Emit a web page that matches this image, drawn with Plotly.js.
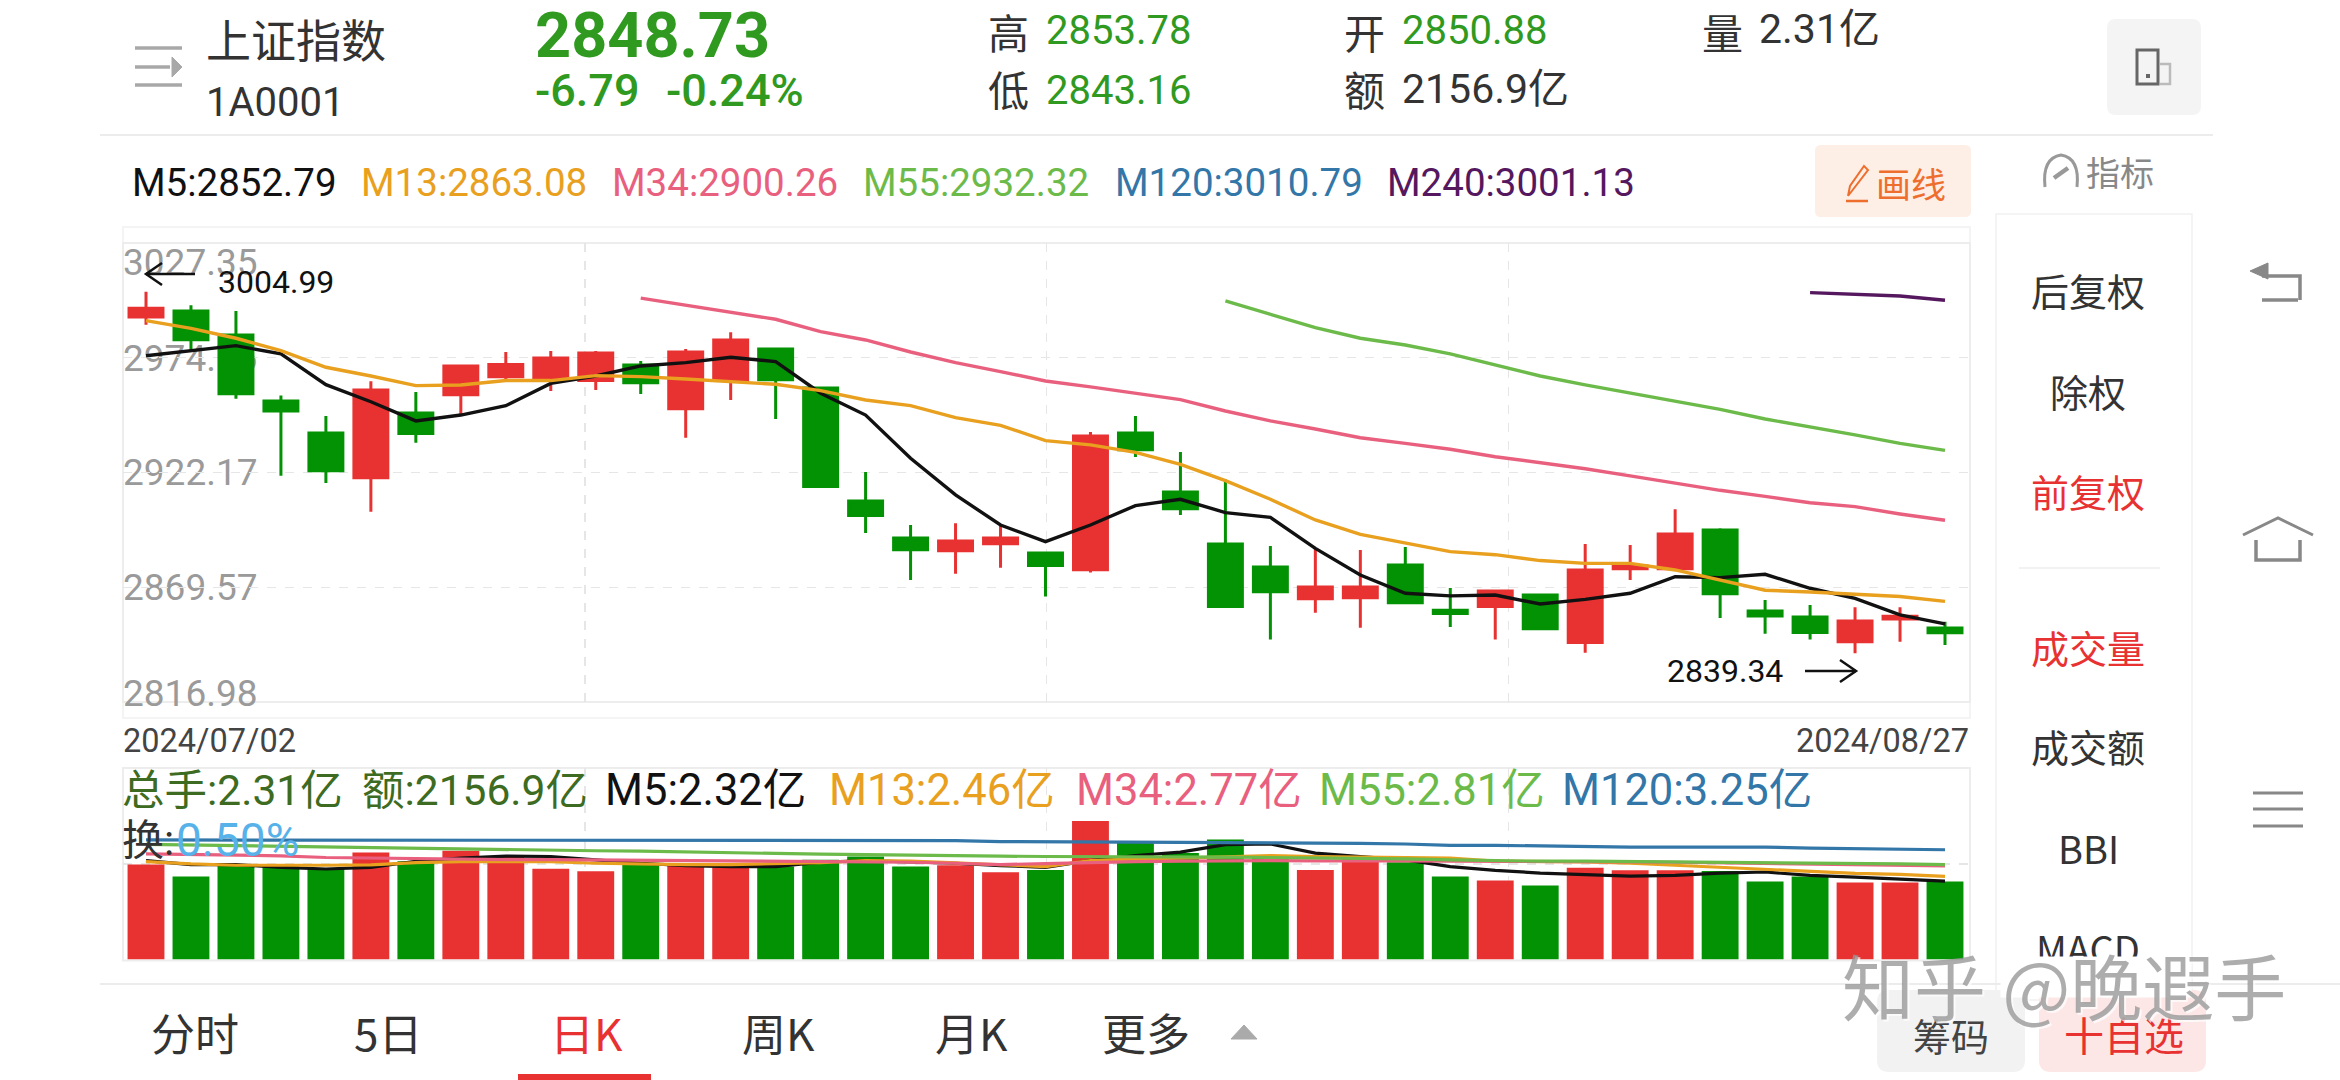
<!DOCTYPE html>
<html>
<head>
<meta charset="utf-8">
<script src="https://cdn.plot.ly/plotly-3.0.1.min.js"></script>
<style>html,body{margin:0;padding:0;background:#fff}#chart{width:2340px;height:1080px}</style>
</head>
<body>
<div id="chart"></div>
<script>
const sessions = ["2024/07/02","2024/07/03","2024/07/04","2024/07/05","2024/07/08","2024/07/09","2024/07/10","2024/07/11","2024/07/12","2024/07/15","2024/07/16","2024/07/17","2024/07/18","2024/07/19","2024/07/22","2024/07/23","2024/07/24","2024/07/25","2024/07/26","2024/07/29","2024/07/30","2024/07/31","2024/08/01","2024/08/02","2024/08/05","2024/08/06","2024/08/07","2024/08/08","2024/08/09","2024/08/12","2024/08/13","2024/08/14","2024/08/15","2024/08/16","2024/08/19","2024/08/20","2024/08/21","2024/08/22","2024/08/23","2024/08/26","2024/08/27"];
const open = [2993.4,2996.2,2985.2,2954.9,2940.3,2919.8,2949.4,2957.8,2966.1,2964.6,2964.3,2971.4,2951.4,2964.3,2978.8,2960.9,2909.1,2892.2,2886.35,2889.55,2885.3,2877.6,2940.3,2913.2,2889.4,2878.9,2864.35,2864.8,2879.8,2859.0,2860.7,2866.0,2844.2,2878.1,2878.1,2895.8,2858.7,2855.9,2844.6,2855.0,2850.88];
const high = [3004.99,2998.8,2996.2,2957.5,2948.1,2964.0,2959.1,2971.7,2977.4,2977.9,2977.9,2973.3,2978.8,2986.4,2979.2,2961.5,2922.4,2898.1,2898.9,2898.1,2885.3,2940.7,2948.1,2931.6,2919.0,2888.5,2887.4,2886.65,2888.0,2869.2,2867.9,2866.0,2889.4,2888.9,2905.3,2896.6,2863.7,2861.4,2860.4,2860.4,2853.78];
const low = [2989.9,2978.0,2956.0,2920.7,2917.4,2904.2,2935.8,2949.0,2964.6,2959.5,2960.0,2958.2,2938.1,2955.4,2946.7,2915.7,2894.4,2872.9,2875.8,2878.55,2865.3,2876.3,2929.3,2902.7,2860.7,2845.6,2857.9,2851.05,2862.5,2851.4,2845.6,2850.6,2839.6,2872.9,2878.1,2855.5,2848.3,2845.6,2839.34,2844.6,2843.16];
const close = [2997.4,2983.05,2958.3,2950.4,2923.0,2960.0,2940.0,2971.0,2971.7,2974.6,2976.9,2963.3,2977.4,2982.9,2964.7,2915.7,2902.4,2886.8,2890.8,2892.2,2879.5,2938.9,2932.6,2905.6,2860.7,2867.55,2869.7,2869.7,2862.5,2857.5,2867.9,2850.6,2877.5,2879.3,2894.0,2866.6,2856.4,2848.8,2854.1,2856.25,2848.73];
const m5 = [2975.7,2978.0,2980.3,2976.5,2962.4,2954.6,2945.8,2948.5,2952.8,2963.0,2966.4,2971.0,2972.5,2975.0,2973.0,2958.5,2948.5,2928.7,2911.9,2898.1,2890.5,2898.1,2907.0,2909.9,2903.8,2901.6,2887.4,2875.2,2866.8,2865.6,2866.0,2861.9,2864.0,2866.8,2874.4,2874.0,2875.5,2869.1,2864.5,2856.9,2852.79];
const m13 = [2991.8,2988.2,2983.7,2978.0,2970.4,2966.4,2962.0,2962.3,2964.3,2964.3,2966.55,2966.1,2965.0,2963.8,2962.6,2959.7,2955.4,2952.8,2947.3,2943.8,2936.8,2934.8,2931.4,2925.9,2918.4,2909.9,2900.4,2893.8,2890.0,2885.9,2884.5,2881.8,2880.5,2880.5,2877.5,2872.9,2868.2,2867.4,2866.3,2865.3,2863.08];
const m34 = [null,null,null,null,null,null,null,null,null,null,null,3002.1,2998.9,2995.9,2992.4,2986.7,2982.9,2977.4,2972.5,2968.4,2964.1,2961.4,2958.5,2955.55,2950.35,2945.8,2942.1,2938.1,2935.5,2932.8,2929.4,2926.5,2923.9,2920.6,2917.2,2914.0,2911.25,2908.3,2906.5,2903.15,2900.26];
const m55 = [null,null,null,null,null,null,null,null,null,null,null,null,null,null,null,null,null,null,null,null,null,null,null,null,3000.8,2994.8,2988.55,2983.7,2980.6,2976.5,2971.4,2966.4,2962.3,2958.5,2954.9,2951.1,2946.7,2943.2,2939.4,2935.5,2932.32];
const m240 = [null,null,null,null,null,null,null,null,null,null,null,null,null,null,null,null,null,null,null,null,null,null,null,null,null,null,null,null,null,null,null,null,null,null,null,null,null,3004.6,3004.0,3003.06,3001.13];
const volume = [2.81,2.46,2.78,2.76,2.68,3.17,2.91,3.22,3.05,2.69,2.61,2.83,2.78,2.73,2.75,2.95,3.05,2.75,2.79,2.58,2.65,4.10,3.47,3.15,3.55,3.03,2.65,2.98,2.88,2.46,2.34,2.19,2.72,2.64,2.64,2.62,2.31,2.46,2.28,2.28,2.31];
const volM5 = [2.93,2.81,2.81,2.73,2.68,2.73,2.91,3.00,3.06,3.05,2.95,2.85,2.78,2.75,2.75,2.88,2.93,2.90,2.85,2.78,2.73,2.93,3.08,3.18,3.40,3.42,3.15,3.05,2.95,2.75,2.64,2.56,2.51,2.47,2.49,2.56,2.59,2.49,2.44,2.39,2.32];
const volM13 = [2.90,2.83,2.79,2.78,2.79,2.80,2.87,2.90,2.91,2.90,2.85,2.82,2.81,2.81,2.83,2.87,2.93,2.91,2.86,2.80,2.75,2.93,2.98,3.00,3.05,3.08,3.05,3.03,3.03,3.00,2.91,2.91,2.89,2.85,2.79,2.71,2.66,2.59,2.55,2.52,2.46];
const volM34 = [3.13,3.11,3.09,3.07,3.02,3.00,2.98,2.97,2.96,2.96,2.95,2.94,2.94,2.93,2.92,2.91,2.90,2.88,2.85,2.81,2.84,2.88,2.90,2.91,2.93,2.93,2.92,2.93,2.92,2.91,2.91,2.90,2.90,2.89,2.88,2.86,2.85,2.83,2.80,2.79,2.77];
const volM55 = [3.41,3.39,3.37,3.35,3.33,3.31,3.29,3.26,3.24,3.23,3.22,3.21,3.18,3.16,3.14,3.12,3.10,3.08,3.07,3.06,3.05,3.05,3.04,3.03,3.03,3.02,3.01,3.00,2.98,2.95,2.92,2.91,2.91,2.90,2.90,2.89,2.88,2.86,2.85,2.83,2.81];
const volM120 = [3.54,3.54,3.54,3.54,3.54,3.54,3.54,3.54,3.54,3.54,3.54,3.54,3.54,3.54,3.54,3.54,3.54,3.54,3.52,3.49,3.49,3.49,3.49,3.47,3.46,3.46,3.46,3.44,3.42,3.38,3.38,3.36,3.35,3.33,3.33,3.33,3.33,3.30,3.28,3.28,3.25];
const priceTicks = [3027.35,2974.76,2922.17,2869.57,2816.98];
const quoteStats = {high:"2853.78",low:"2843.16",open:"2850.88",last:"2848.73",chg:"-6.79",pct:"-0.24%"};

const W=2340,H=1080;
const RED='#e83232',GREEN='#039203',C5='#111111',C13='#e8a01e',C34='#e9607f',C55='#6cbb4a',C120='#3376a8',C240='#55185f';
const FONT="Roboto, 'Noto Sans CJK SC', sans-serif";
const CJK="'Noto Sans CJK SC', Roboto, sans-serif";
const px=x=>x/W, py=y=>1-y/H;
const idx=sessions.map((_,i)=>i);
const PL=123,PR=1970,PT=243,PB=702,VT=768,VB=959.5;
const xRange=[(PL-146)/44.975,(PR-146)/44.975];
const yRange=[priceTicks[4],priceTicks[0]];
const unit=(yRange[1]-yRange[0])/(PB-PT);
const vGrid=[1,2,3].map(k=>xRange[0]+(xRange[1]-xRange[0])*k/4);
const labelPos=[priceTicks[0]-19*unit,priceTicks[1],priceTicks[2],priceTicks[3],priceTicks[4]+9*unit];
const EXT=30;

const ann=[];
function T(x,y,text,size,color,o={}){ann.push(Object.assign({xref:'paper',yref:'paper',x:px(x),y:py(y),text,showarrow:false,
  xanchor:'left',yanchor:'middle',font:{size,color,family:FONT}},o));}
function C(x,y,text,size,color,o={}){T(x,y,text,size,color,Object.assign({font:{size,color,family:CJK}},o));}
const shapes=[];
function R(x0,y0,x1,y1,fill,line,lw,layer){shapes.push({type:'rect',xref:'paper',yref:'paper',x0:px(x0),x1:px(x1),y0:py(y0),y1:py(y1),
  fillcolor:fill||'rgba(0,0,0,0)',line:{color:line||'rgba(0,0,0,0)',width:lw||0},layer:layer||'below'});}
function RR(x0,y0,x1,y1,r,fill){const p=(x,y)=>px(x)+','+py(y);
  shapes.push({type:'path',xref:'paper',yref:'paper',layer:'below',fillcolor:fill,line:{width:0},
   path:`M${p(x0+r,y0)} L${p(x1-r,y0)} Q${p(x1,y0)} ${p(x1,y0+r)} L${p(x1,y1-r)} Q${p(x1,y1)} ${p(x1-r,y1)} L${p(x0+r,y1)} Q${p(x0,y1)} ${p(x0,y1-r)} L${p(x0,y0+r)} Q${p(x0,y0)} ${p(x0+r,y0)} Z`});}
function P(pts,color,w,closed,fill){const d=pts.map((q,i)=>(i?'L':'M')+px(q[0])+','+py(q[1])).join(' ')+(closed?' Z':'');
  shapes.push({type:'path',xref:'paper',yref:'paper',layer:'above',path:d,line:{color:color,width:w},fillcolor:fill||'rgba(0,0,0,0)'});}

// header
P([[135,48],[182,48]],'#a8a8a8',3.5);P([[135,67],[170,67]],'#a8a8a8',3.5);P([[135,85],[182,85]],'#a8a8a8',3.5);
P([[172,57],[182,67],[172,77]],'#a8a8a8',1,true,'#a8a8a8');
C(204,38,'上证指数',45,'#333333');
T(204,102,'1A0001',40,'#333333');
T(533,36,quoteStats.last,63,'#2f9a1f',{font:{size:63,color:'#2f9a1f',family:FONT,weight:700}});
T(532.5,90,quoteStats.chg,45,'#2f9a1f',{font:{size:45,color:'#2f9a1f',family:FONT,weight:500}});
T(664,90,quoteStats.pct,45,'#2f9a1f',{font:{size:45,color:'#2f9a1f',family:FONT,weight:500}});
C(986,31,'高',41,'#333333');T(1043.5,30,quoteStats.high,40,'#2f9a1f');
C(986,88,'低',41,'#333333');T(1043.5,90,quoteStats.low,40,'#2f9a1f');
C(1342,31,'开',41,'#333333');T(1399.5,30,quoteStats.open,40,'#2f9a1f');
C(1342,88,'额',41,'#333333');T(1399.5,89,'2156.9亿',41,'#333333');
C(1700,31,'量',41,'#333333');T(1757,29,'2.31亿',41,'#333333');
RR(2107,19,2201,115,9,'#f4f4f4');
shapes.push({type:'rect',xref:'paper',yref:'paper',x0:px(2137),x1:px(2158),y0:py(50),y1:py(84),line:{color:'#666',width:3},fillcolor:'rgba(0,0,0,0)',layer:'above'});
P([[2146,76],[2150,76]],'#666',4);
P([[2160,64],[2170,64],[2170,84],[2160,84]],'#bbb',2.5);
P([[100,135],[2213,135]],'#ececec',2);

// indicator row
T(130,182,'M5:'+m5[40].toFixed(2),38.5,C5);
T(358.5,182,'M13:'+m13[40].toFixed(2),38.5,C13);
T(610,182,'M34:'+m34[40].toFixed(2),38.5,C34);
T(860.5,182,'M55:'+m55[40].toFixed(2),38.5,C55);
T(1112.5,182,'M120:3010.79',38.5,C120);
T(1384.5,182,'M240:'+m240[40].toFixed(2),38.5,C240);
RR(1815,145,1971,217,6,'#fdeee6');
P([[1848,196],[1868,170],[1864,166],[1850,186],[1848,196]],'#ee6e2e',2);P([[1846,201],[1868,201]],'#ee6e2e',2.5);
C(1874,182,'画线',35,'#ee6e2e');
shapes.push({type:'path',xref:'paper',yref:'paper',layer:'above',line:{color:'#999',width:3},
 path:`M${px(2045)},${py(187)} Q${px(2042)},${py(158)} ${px(2061)},${py(155)} Q${px(2080)},${py(158)} ${px(2077)},${py(187)}`});
P([[2054,178],[2068,168]],'#999',4.5);
C(2084,171,'指标',34,'#888888');

// panels
R(PL,227,PR,718,null,'#f4f4f4',2);
R(PL,PT,PR,PB,null,'#ededed',2);
R(PL,VT,PR,VB+1,null,'#ededed',2);
T(121,741,sessions[0],32.5,'#444444');
T(PR+1,741,sessions[40],32.5,'#444444',{xanchor:'right'});

// annotated extremes
T(216,282,high[0].toFixed(2),32,'#111111');
P([[146,274],[195,274]],'#111',2.5);P([[162,263],[146,274],[162,285]],'#111',2.5);
T(1665,671,low[38].toFixed(2),32,'#111111');
P([[1805,671],[1856,671]],'#111',2.5);P([[1840,660],[1856,671],[1840,682]],'#111',2.5);

// volume texts
T(120,790,'总手:2.31亿',42.5,'#3d6b22');
T(360,790,'额:2156.9亿',42.5,'#3d6b22');
T(603,790,'M5:'+volM5[40].toFixed(2)+'亿',43.5,C5);
T(826.5,790,'M13:'+volM13[40].toFixed(2)+'亿',43.5,C13);
T(1073.5,790,'M34:'+volM34[40].toFixed(2)+'亿',43.5,C34);
T(1317,790,'M55:'+volM55[40].toFixed(2)+'亿',43.5,C55);
T(1560,790,'M120:'+volM120[40].toFixed(2)+'亿',43.5,C120);
T(120,840,'换:',42,'#333333');
T(174,840,'0.50%',46,'#58b2ea');

// side menu
R(1996,214,2192,1000,null,'#f1f1f1',1.5);
const menu=[['后复权',289,'#333333'],['除权',390,'#333333'],['前复权',490,RED],['成交量',646,RED],['成交额',745,'#333333'],['BBI',847,'#333333'],['MACD',947,'#333333']];
menu.forEach(m=>C(2088,m[1],m[0],38,m[2],{xanchor:'center'}));
T(2000,977,' ',10,'#fff',{xanchor:'left',yanchor:'middle',width:188,height:38,bgcolor:'#ffffff'});
P([[2019,568],[2160,568]],'#eeeeee',1.5);

// nav icons
P([[2298,300],[2262,300]],'#888',3.5);
P([[2262,276],[2300,276],[2300,300]],'#888',3.5);
P([[2250,271],[2268,263],[2268,279]],'#888',1,true,'#888');
P([[2243,535],[2278,518],[2313,535]],'#888',3);
P([[2256,540],[2256,560],[2300,560],[2300,540]],'#888',3.5);
[793,809,826].forEach(y=>P([[2253,y],[2303,y]],'#888',3));

// tab bar
P([[100,984],[2340,984]],'#ececec',2);
[['分时',195,'#333333'],['5日',388,'#333333'],['日K',586,RED],['周K',778,'#333333'],['月K',971,'#333333'],['更多',1146,'#333333']].forEach(t=>
  C(t[1],1032,t[0],44,t[2],{xanchor:'center'}));
P([[1244,1025],[1257,1039],[1231,1039]],'#aaaaaa',1,true,'#aaaaaa');
R(518,1074,651,1080,RED,null,0,'above');
RR(1877,990,2025,1072,12,'#f2f2f2');
RR(2039,990,2206,1072,12,'#fde6e6');
C(1951,1034,'筹码',38,'#444444',{xanchor:'center'});
C(2124,1034,'十自选',40,RED,{xanchor:'center'});
// watermark
T(1840,983,'知乎 @晚遐手',72,'rgba(150,150,150,0.78)',{font:{size:72,color:'rgba(150,150,150,0.78)',family:CJK,shadow:'2px 2px 0 rgba(255,255,255,0.9)'}});

const line=(y,name,color,xa,ya,w)=>({type:'scatter',mode:'lines',x:idx,y,name,xaxis:xa,yaxis:ya,line:{color,width:w||3.4},connectgaps:false,hoverinfo:'skip'});
const traces=[
 {type:'scatter',mode:'markers',x:[0],y:[null],xaxis:'x',yaxis:'y',marker:{opacity:0},hoverinfo:'skip'},
 {type:'bar',x:idx,y:volume,xaxis:'x2',yaxis:'y2',marker:{color:close.map((c,i)=>c>=open[i]?RED:GREEN),line:{width:0}},name:'量'},
 line(volM5,'VM5',C5,'x2','y2',3.2),line(volM13,'VM13',C13,'x2','y2',3.2),line(volM34,'VM34',C34,'x2','y2',3.2),line(volM55,'VM55',C55,'x2','y2',3.2),line(volM120,'VM120',C120,'x2','y2',3.2),
 {type:'candlestick',x:idx,open,high,low,close,xaxis:'x3',yaxis:'y3',whiskerwidth:0,
  increasing:{line:{color:RED,width:3},fillcolor:RED},decreasing:{line:{color:GREEN,width:3},fillcolor:GREEN},name:'K'},
 line(m5,'M5',C5,'x3','y3'),line(m13,'M13',C13,'x3','y3'),line(m34,'M34',C34,'x3','y3'),line(m55,'M55',C55,'x3','y3'),line(m240,'M240',C240,'x3','y3')
];
const gridX={showgrid:true,gridcolor:'#e6e6e6',griddash:'dash',gridwidth:1.5,tickmode:'array',tickvals:vGrid,showticklabels:false,ticks:'',zeroline:false,showline:false,range:xRange,type:'linear',fixedrange:true};
const layout={
 width:W,height:H,margin:{l:0,r:0,t:0,b:0},paper_bgcolor:'#fff',plot_bgcolor:'rgba(0,0,0,0)',showlegend:false,bargap:0.18,boxgap:0.245,boxgroupgap:0,dragmode:false,
 // price labels sit on their own axis, under the candles
 xaxis:{domain:[px(PL-3),px(PR)],anchor:'y',range:xRange,visible:false,showgrid:false,zeroline:false,fixedrange:true},
 yaxis:{domain:[py(PB+EXT),py(PT-EXT)],range:[yRange[0]-EXT*unit,yRange[1]+EXT*unit],anchor:'x',showgrid:false,zeroline:false,showline:false,tickmode:'array',tickvals:labelPos,
   ticktext:priceTicks.map(v=>v.toFixed(2)),ticks:'',ticklabelposition:'inside',tickfont:{size:37,color:'#9a9a9a',family:FONT},layer:'below traces',fixedrange:true},
 xaxis2:Object.assign({},gridX,{domain:[px(PL),px(PR)],anchor:'y2'}),
 yaxis2:{domain:[py(VB),py(VT)],range:[0,5.67],anchor:'x2',showgrid:true,gridcolor:'#e6e6e6',griddash:'dash',gridwidth:1.5,tickmode:'array',tickvals:[2.835],
   showticklabels:false,ticks:'',zeroline:false,showline:false,fixedrange:true},
 xaxis3:Object.assign({},gridX,{domain:[px(PL),px(PR)],anchor:'y3',rangeslider:{visible:false}}),
 yaxis3:{domain:[py(PB),py(PT)],anchor:'x3',range:yRange,showgrid:true,gridcolor:'#e6e6e6',griddash:'dash',gridwidth:1.5,tickmode:'array',
   tickvals:priceTicks.slice(1,4),showticklabels:false,ticks:'',zeroline:false,showline:false,fixedrange:true},
 shapes,annotations:ann
};
Plotly.newPlot('chart',traces,layout,{displayModeBar:false,staticPlot:true});
</script>
</body>
</html>
